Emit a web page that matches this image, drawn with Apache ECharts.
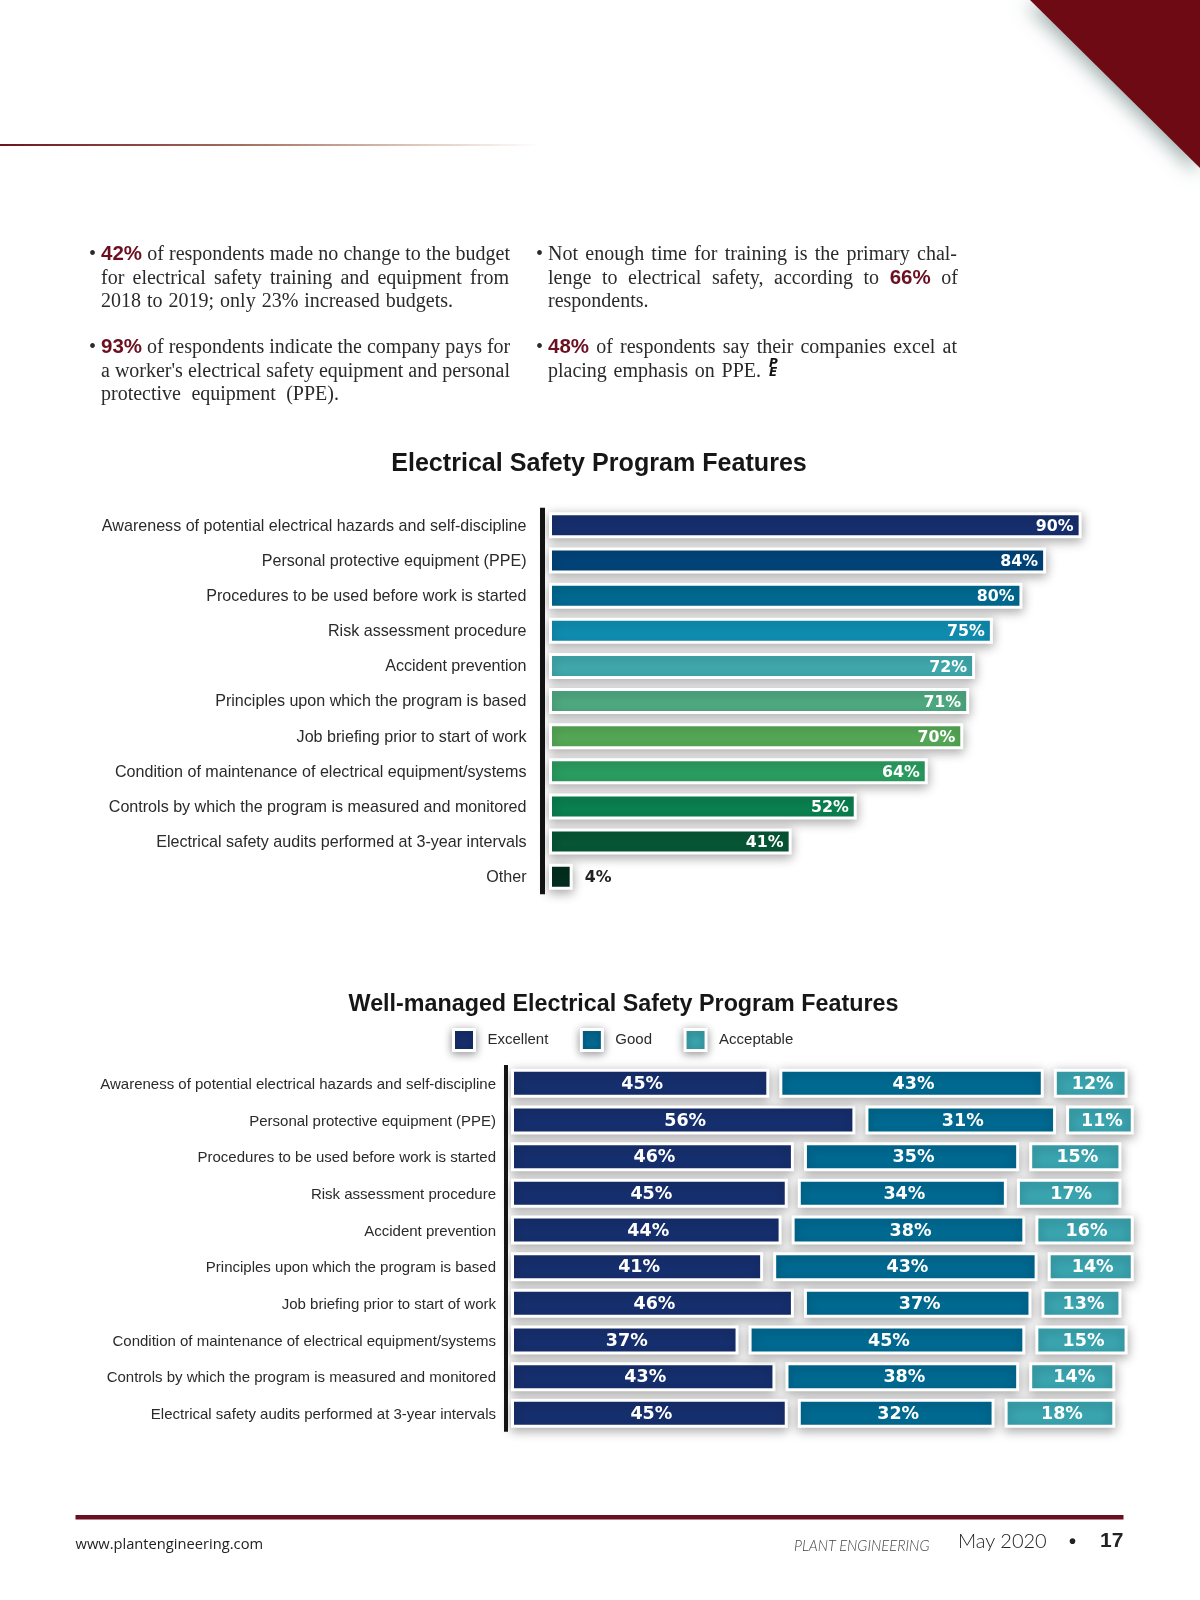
<!DOCTYPE html>
<html>
<head>
<meta charset="utf-8">
<title>Electrical Safety Program Features</title>
<script src="https://cdn.jsdelivr.net/npm/echarts@6/dist/echarts.min.js"></script>
<style>
html,body{margin:0;padding:0;background:#fff;}
#page{position:relative;width:1200px;height:1600px;overflow:hidden;}
#chart{position:absolute;left:0;top:0;width:1200px;height:1600px;}
.ln{position:absolute;font-family:"Liberation Serif",serif;font-size:20px;line-height:24px;color:#2a2a2a;white-space:nowrap;text-align:justify;text-align-last:justify;}
.ln b{font-family:"Liberation Sans",sans-serif;font-weight:bold;font-size:20.5px;color:#6b1020;}
.bu{position:absolute;font-family:"Liberation Serif",serif;font-size:20px;line-height:24px;color:#2a2a2a;}
.ft{position:absolute;white-space:nowrap;color:#222;}
.pe{position:absolute;font-family:"DejaVu Sans",sans-serif;font-weight:bold;font-style:italic;font-size:12px;line-height:10px;color:#111;}
</style>
</head>
<body>
<div id="page">
<div id="chart"></div>
<div id="copy"></div>
</div>
<script>
// ---- chart 1 data ----
const featureCategories = [
  "Awareness of potential electrical hazards and self-discipline",
  "Personal protective equipment (PPE)",
  "Procedures to be used before work is started",
  "Risk assessment procedure",
  "Accident prevention",
  "Principles upon which the program is based",
  "Job briefing prior to start of work",
  "Condition of maintenance of electrical equipment/systems",
  "Controls by which the program is measured and monitored",
  "Electrical safety audits performed at 3-year intervals",
  "Other"
];
const featureValues = [90, 84, 80, 75, 72, 71, 70, 64, 52, 41, 4];
const featureColors = ["#162f6e","#02447a","#006a92","#0f8eb2","#41aaae","#4faa82","#55a957","#2b9e60","#0a8150","#075736","#032f1f"];

// ---- chart 2 data ----
const managedCategories = featureCategories.slice(0, 10);
// The reference prints 45% on the first row's Excellent bar but draws it about 42 units long,
// so bar lengths and printed labels are kept separately for that series.
const excellentValues = [42, 56, 46, 45, 44, 41, 46, 37, 43, 45];
const excellentLabels = [45, 56, 46, 45, 44, 41, 46, 37, 43, 45];
const goodValues = [43, 31, 35, 34, 38, 43, 37, 45, 38, 32];
const acceptableValues = [12, 11, 15, 17, 16, 14, 13, 15, 14, 18];
const managedNames = ["Excellent", "Good", "Acceptable"];
const managedColors = ["#162f6e", "#006a92", "#3aa5b0"];

// ---- page copy ----
const bodyLines = [
  [101, 241, 409, "<b>42%</b> of respondents made no change to the budget", 1],
  [101, 265, 408, "for electrical safety training and equipment from"],
  [101, 288, 352, "2018 to 2019; only 23% increased budgets."],
  [101, 334, 409, "<b>93%</b> of respondents indicate the company pays for", 1],
  [101, 358, 409, "a worker's electrical safety equipment and personal"],
  [101, 381, 238, "protective equipment (PPE)."],
  [548, 241, 409, "Not enough time for training is the primary chal-", 1],
  [548, 265, 410, "lenge to electrical safety, according to <b>66%</b> of"],
  [548, 288, 107, "respondents."],
  [548, 334, 409, "<b>48%</b> of respondents say their companies excel at", 1],
  [548, 358, 213, "placing emphasis on PPE."]
];

const copy = document.getElementById("copy");
let html = "";
for (const [x, y, w, t, bullet] of bodyLines) {
  if (bullet) html += `<div class="bu" style="left:${x - 12}px;top:${y}px">•</div>`;
  html += `<div class="ln" style="left:${x}px;top:${y}px;width:${w}px">${t}</div>`;
}
html += `<div class="pe" style="left:769px;top:358px">P</div><div class="pe" style="left:769px;top:367px">E</div>`;
html += `<div class="ft" style="left:75.5px;top:1533px;font:14.7px 'Open Sans',sans-serif">www.plantengineering.com</div>`;
html += `<div class="ft" style="left:794px;top:1536px;font:italic 300 14.7px 'Lato',sans-serif;color:#444">PLANT ENGINEERING</div>`;
html += `<div class="ft" style="left:958px;top:1528px;font:300 20px 'Lato',sans-serif">May 2020</div>`;
html += `<div class="ft" style="left:1069px;top:1530px;font:bold 20px 'Liberation Sans',sans-serif">•</div>`;
html += `<div class="ft" style="left:1100px;top:1528px;font:bold 21px 'Liberation Sans',sans-serif">17</div>`;
copy.innerHTML = html;

// ---- chart ----
const chart = echarts.init(document.getElementById("chart"), null, {width:1200, height:1600});
const GAP = 1.63;
const gapValues = managedCategories.map(() => GAP);
const labelFont = "Liberation Sans";
const barFont = "DejaVu Sans";
const shadow = {borderColor:"#fff", borderWidth:3, shadowBlur:11, shadowOffsetY:3, shadowColor:"rgba(0,0,0,0.32)"};

const catAxis = (gridIndex, data, offset, margin, lineWidth, size, dy) => ({
  type:"category", gridIndex, data, inverse:true, offset,
  axisTick:{show:false},
  axisLine:{show:true, onZero:false, lineStyle:{color:"#141414", width:lineWidth, cap:"butt"}},
  axisLabel:{interval:0, margin, formatter:"{t|{value}}",
    rich:{t:{color:"#2a2a2a", fontFamily:labelFont, fontSize:size, padding:[dy,0,0,0]}}}
});
const valAxis = (gridIndex) => ({type:"value", gridIndex, min:0, max:110, show:false, splitLine:{show:false}});

const stackSeries = (name, values, color, labels) => ({
  name, type:"bar", stack:"m", xAxisIndex:1, yAxisIndex:1, barWidth:29, z:3,
  data:values,
  itemStyle:Object.assign({color}, shadow),
  label:{show:true, position:"inside", offset:[2,1], color:"#fff", fontFamily:barFont, fontWeight:"bold", fontSize:17.5,
    formatter:(p) => (labels ? labels[p.dataIndex] : p.value) + "%"}
});
const spacer = (name) => ({
  name, type:"bar", stack:"m", xAxisIndex:1, yAxisIndex:1, barWidth:29, silent:true,
  data:gapValues, itemStyle:{color:"transparent"}, label:{show:false}
});

const option = {
  animation:false,
  backgroundColor:"#fff",
  title:[
    {text:"Electrical Safety Program Features", left:594, top:447, textAlign:"center",
     textStyle:{fontFamily:labelFont, fontWeight:"bold", fontSize:25.1, color:"#161616"}},
    {text:"Well-managed Electrical Safety Program Features", left:618.5, top:988, textAlign:"center",
     textStyle:{fontFamily:labelFont, fontWeight:"bold", fontSize:23.3, color:"#161616"}}
  ],
  legend:{
    data:managedNames, left:447, top:1023, orient:"horizontal", icon:"rect",
    itemWidth:21, itemHeight:21, itemGap:31.5, selectedMode:false,
    itemStyle:{borderColor:"#fff", borderWidth:3, shadowBlur:9, shadowOffsetY:2, shadowColor:"rgba(0,0,0,0.38)"},
    textStyle:{fontFamily:labelFont, fontSize:15, color:"#2a2a2a", padding:[0,0,0,8]}
  },
  grid:[
    {left:549, top:507.8, width:656.4, height:386.5},
    {left:511, top:1065, width:676.5, height:366.7}
  ],
  xAxis:[valAxis(0), valAxis(1)],
  yAxis:[
    catAxis(0, featureCategories, 7, 15.5, 5, 16.1, 2),
    catAxis(1, managedCategories, 5, 10, 4, 15, 3)
  ],
  series:[
    {name:"Features", type:"bar", xAxisIndex:0, yAxisIndex:0, barWidth:26, z:3,
     data:featureValues.map((v, i) => ({
       value:v,
       itemStyle:{color:featureColors[i]},
       label: v < 10 ? {position:"right", distance:12, color:"#222"} : undefined
     })),
     itemStyle:shadow,
     label:{show:true, position:"insideRight", distance:8, offset:[0,1.5], color:"#fff", fontFamily:barFont, fontWeight:"bold", fontSize:15.8, formatter:"{c}%"}},
    stackSeries(managedNames[0], excellentValues, managedColors[0], excellentLabels),
    spacer("gap1"),
    stackSeries(managedNames[1], goodValues, managedColors[1]),
    spacer("gap2"),
    stackSeries(managedNames[2], acceptableValues, managedColors[2])
  ],
  graphic:[
    {type:"polygon", z:1, shape:{points:[[1030,0],[1200,168],[1200,0]]},
     style:{fill:"#6d0a13", shadowBlur:18, shadowOffsetX:-4, shadowOffsetY:5, shadowColor:"rgba(70,95,95,0.5)"}},
    {type:"rect", z:1, shape:{x:0, y:144, width:540, height:2},
     style:{fill:{type:"linear", x:0, y:0, x2:1, y2:0, colorStops:[
       {offset:0, color:"#6d1420"}, {offset:0.45, color:"#a4705e"}, {offset:0.8, color:"#e3cfc4"}, {offset:1, color:"#ffffff"}]}}},
    {type:"rect", z:1, shape:{x:75.5, y:1515, width:1048, height:4.5}, style:{fill:"#6a1020"}}
  ]
};
chart.setOption(option);
</script>
</body>
</html>
